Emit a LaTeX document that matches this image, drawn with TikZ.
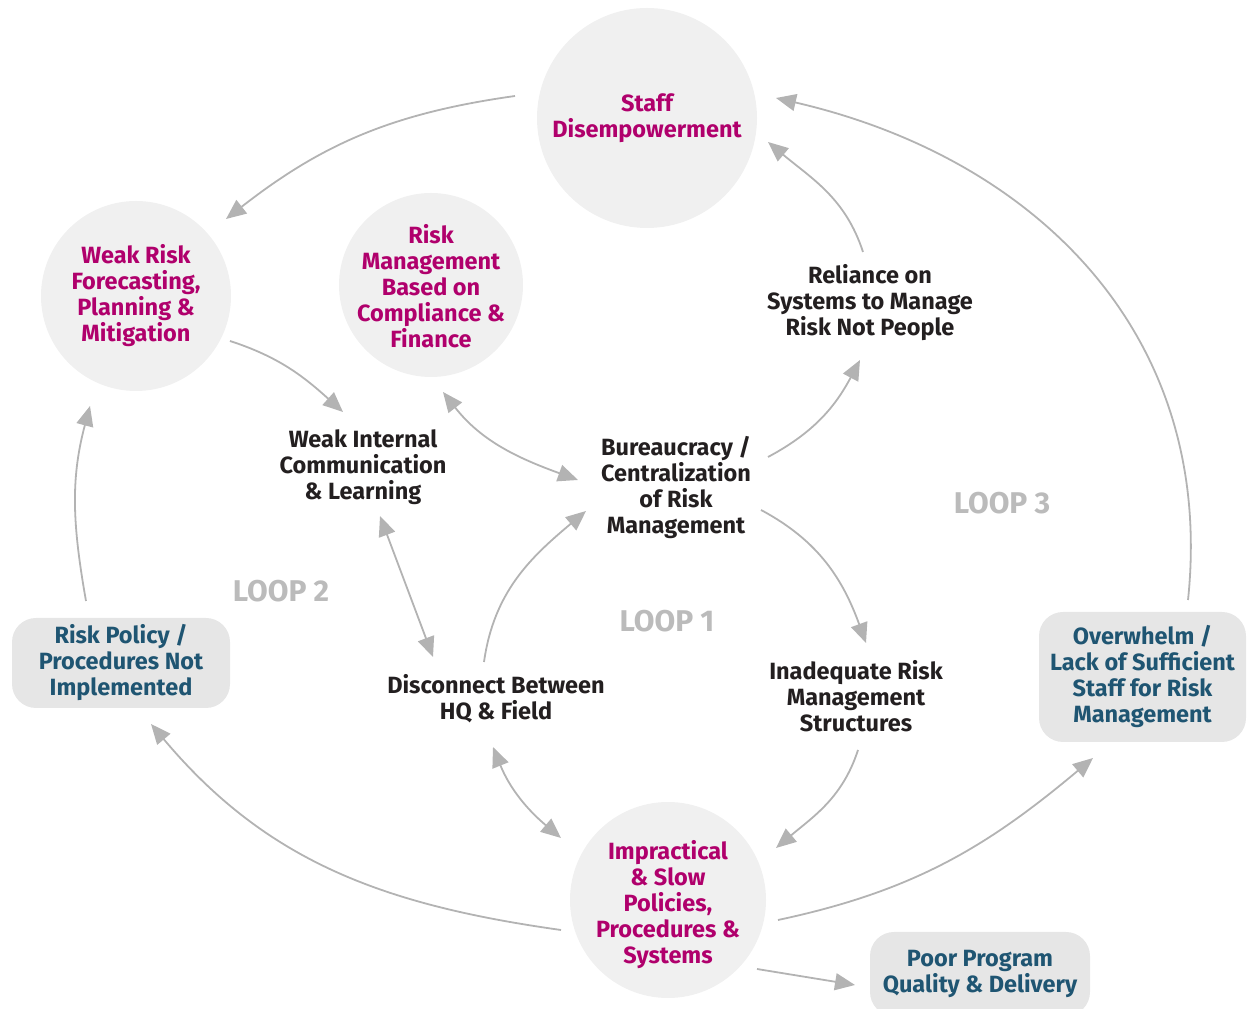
\documentclass[tikz,border=0pt]{standalone}
\usepackage{fontspec}
\setmainfont{Fira Sans}
\usetikzlibrary{arrows.meta}
\definecolor{cgray}{HTML}{B3B3B3}
\definecolor{cfill}{HTML}{F0F0F0}
\definecolor{cbox}{HTML}{E6E6E6}
\definecolor{cmag}{HTML}{B0006C}
\definecolor{cblue}{HTML}{1F5572}
\definecolor{cdark}{HTML}{231F20}
\definecolor{cloop}{HTML}{BBBBBB}
\begin{document}
\begin{tikzpicture}[x=1pt,y=1pt,
  tip/.tip={Triangle[length=20pt,width=17pt]},
  conn/.style={draw=cgray, line width=1.8pt, -tip},
  dconn/.style={draw=cgray, line width=1.8pt, tip-tip},
  txt/.style={font=\fontsize{23.5}{26}\selectfont\bfseries, align=center},
  bubble/.style={circle, fill=cfill, inner sep=0pt, txt, text=cmag},
  pbox/.style={rounded corners=24pt, fill=cbox, inner sep=0pt, txt, text=cblue},
  plain/.style={txt, text=cdark},
  looplbl/.style={font=\fontsize{30}{33}\selectfont\bfseries, text=cloop}
]
\useasboundingbox (0,0) rectangle (1248,1009);

% circles
\node[bubble, minimum size=220pt] (staff) at (647,891) {Staff\\Disempowerment};
\node[bubble, minimum size=190pt] (weakrisk) at (136,713) {Weak Risk\\Forecasting,\\Planning \&\\Mitigation};
\node[bubble, minimum size=184pt] (riskmgmt) at (431,724) {};
\node[txt, text=cmag] (riskmgmttxt) at (431,723) {Risk\\Management\\Based on\\Compliance \&\\Finance};
\node[bubble, minimum size=196pt] (impr) at (668,109) {};
\node[txt, text=cmag] (imprtxt) at (668,104) {Impractical\\\& Slow\\Policies,\\Procedures \&\\Systems};

% boxes
\node[pbox, minimum width=218pt, minimum height=90pt] (riskpol) at (121,346) {Risk Policy /\\Procedures Not\\Implemented};
\node[pbox, minimum width=207pt, minimum height=130pt] (overw) at (1142.5,332) {Overwhelm /\\Lack of Sufficient\\Staff for Risk\\Management};
\node[pbox, minimum width=220pt, minimum height=84pt] (poor) at (980,35) {Poor Program\\Quality \& Delivery};

% plain text
\node[plain] (reliance) at (870,706) {Reliance on\\Systems to Manage\\Risk Not People};
\node[plain] (weakint) at (363,542) {Weak Internal\\Communication\\\& Learning};
\node[plain] (bureau) at (676,521) {Bureaucracy /\\Centralization\\of Risk\\Management};
\node[plain] (inadeq) at (856,313) {Inadequate Risk\\Management\\Structures};
\node[plain] (discon) at (496,310) {Disconnect Between\\HQ \& Field};

% loop labels
\node[looplbl] (loop3) at (1002,506) {LOOP 3};
\node[looplbl] (loop2) at (281,418) {LOOP 2};
\node[looplbl] (loop1) at (667,388) {LOOP 1};

% connectors
\draw[conn] ([shift={(-132,22)}]staff.center) to[out=188,in=38] ([shift={(90,77)}]weakrisk.center);
\draw[conn] ([shift={(94,-45)}]weakrisk.center) to[out=-18,in=138] ([shift={(-20,55)}]weakint.center);
\draw[dconn] ([shift={(12,-107)}]riskmgmt.center) to[out=-52,in=160] ([shift={(-98,8)}]bureau.center);
\draw[conn] ([shift={(92,31)}]bureau.center) to[out=28,in=-118] ([shift={(-10,-57)}]reliance.center);
\draw[conn] ([shift={(-7,51)}]reliance.center) to[out=108,in=-40] ([shift={(121,-24)}]staff.center);
\draw[conn] ([shift={(45.5,77)}]overw.center) to[out=84,in=-13,looseness=1.05] ([shift={(129,20)}]staff.center);
\draw[conn] ([shift={(85,-22)}]bureau.center) to[out=-28,in=110] ([shift={(10,53)}]inadeq.center);
\draw[conn] ([shift={(2,-54)}]inadeq.center) to[out=-108,in=40] ([shift={(108,52)}]impr.center);
\draw[dconn] ([shift={(17,-49)}]weakint.center) -- ([shift={(-63,42)}]discon.center);
\draw[conn] ([shift={(-12,37)}]discon.center) to[out=82,in=-140] ([shift={(-90,-23)}]bureau.center);
\draw[dconn] ([shift={(-3,-48)}]discon.center) to[out=-68,in=140] ([shift={(-107,62)}]impr.center);
\draw[conn] ([shift={(-107,-30)}]impr.center) to[out=172,in=-50] ([shift={(30,-61)}]riskpol.center);
\draw[conn] ([shift={(-35,62)}]riskpol.center) to[out=100,in=-105] ([shift={(-46,-110)}]weakrisk.center);
\draw[conn] ([shift={(110,-20)}]impr.center) to[out=12,in=-140] ([shift={(-49.5,-81)}]overw.center);
\draw[conn] ([shift={(89,-69)}]impr.center) -- ([shift={(-125,-11)}]poor.center);
\end{tikzpicture}
\end{document}
